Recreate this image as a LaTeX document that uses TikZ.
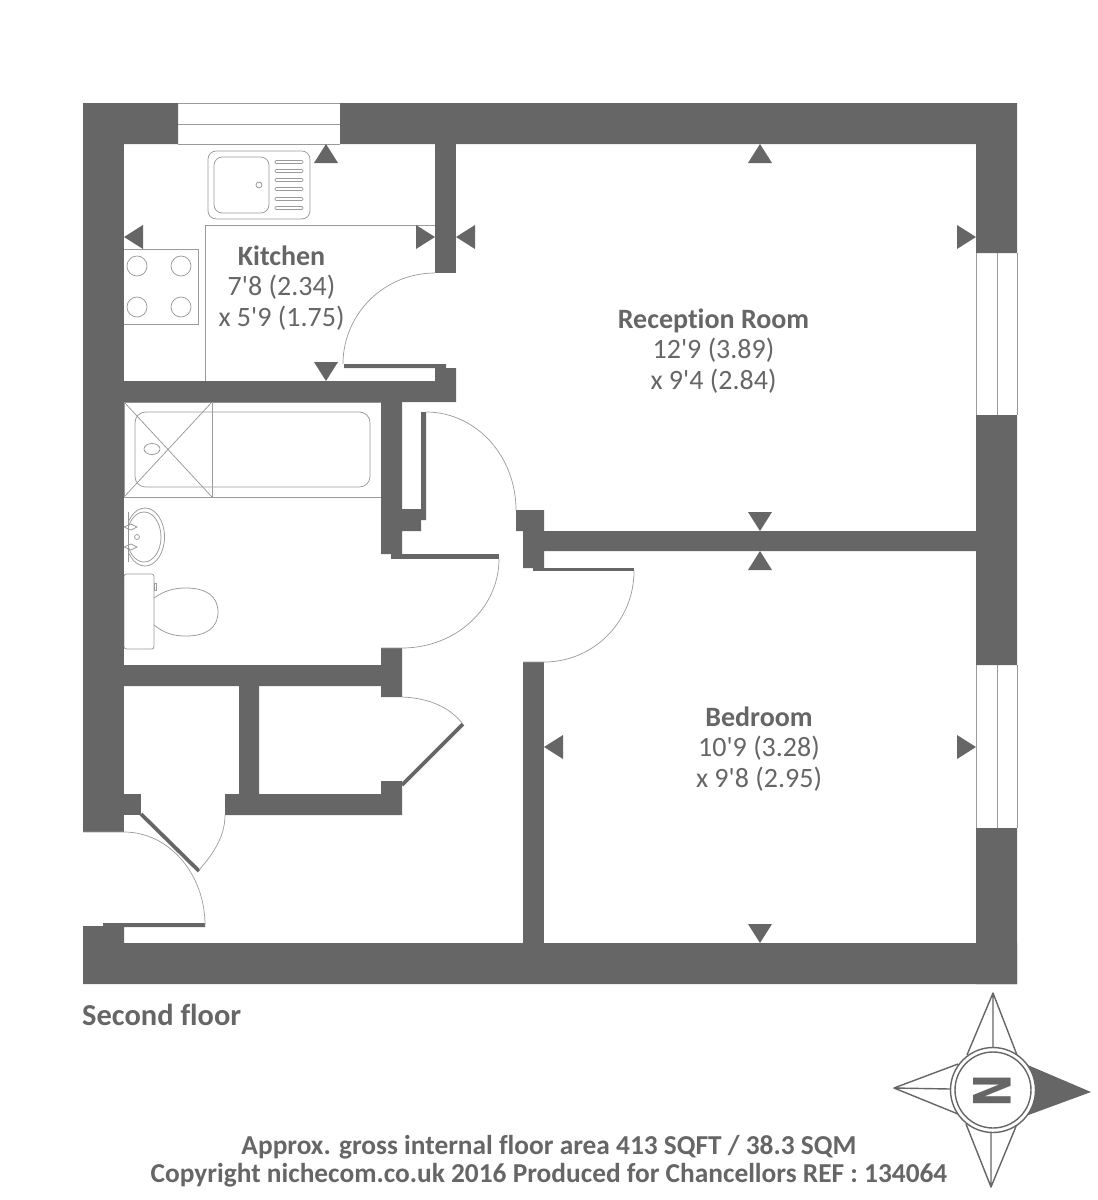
\documentclass[tikz,border=0pt]{standalone}
\usepackage{fontspec}
\setmainfont{Carlito}[Ligatures={TeXOff,CommonOff}]
\newfontfamily\northfont{DejaVu Sans}
\definecolor{wallgrey}{HTML}{666666}
\definecolor{fitgrey}{HTML}{9A9A9A}
\tikzset{
	wall/.style={fill=wallgrey},
	leaf/.style={draw=wallgrey, line width=3.2pt},
	fitting/.style={draw=fitgrey, line width=0.65pt},
	swing/.style={draw=fitgrey, line width=0.6pt},
	roomlabel/.style={text=wallgrey, align=center, inner sep=0pt, font=\fontsize{23.9}{26}\selectfont},
	footlabel/.style={text=wallgrey, align=center, inner sep=0pt, font=\bfseries\fontsize{23.35}{24}\selectfont},
	measure/.pic={\fill[wallgrey] (0,0) -- (12,19) -- (-12,19) -- cycle;}
}
\begin{document}
\begin{tikzpicture}[x=0.3mm, y=-0.3mm]
	\useasboundingbox (0,0) rectangle (1097,1200);

	% kitchen
	\draw[fitting] (205,381) -- (205,225) -- (435,225);
	\draw[fitting] (124,249) -- (198,249) -- (198,324) -- (124,324);
	\foreach \hobx in {137,181} {
		\foreach \hoby in {266,307} {
			\draw[fitting] (\hobx,\hoby) circle (10);
		}
	}
	\draw[fitting, rounded corners=7pt] (208,151) rectangle (310,219);
	\draw[fitting, rounded corners=7pt] (214,157) rectangle (269,213);
	\draw[fitting] (259,185) circle (3);
	\foreach \ridgey in {162,171,180,189,199,208} {
		\draw[fitting, rounded corners=1pt] (275,\ridgey-1.5) rectangle (303,\ridgey+1.5);
	}

	% bathroom
	\draw[fitting] (124,402) rectangle (381,497) (212,402) -- (212,497);
	\draw[fitting] (124,402) -- (212,497) (212,402) -- (124,497);
	\draw[fitting, rounded corners=9pt] (135,412) rectangle (370,487);
	\draw[fitting] (152,449) ellipse (8 and 5.5);
	\begin{scope}
		\clip (128,500) rectangle (170,570);
		\draw[fitting] (145,537) ellipse (19.5 and 29);
		\draw[fitting] (144,537) ellipse (17 and 25);
	\end{scope}
	\draw[fitting] (128,512) -- (128,562);
	\draw[fitting] (124,527) -- (131,524) -- (137,527) -- (131,530) -- cycle;
	\draw[fitting] (124,547) -- (131,544) -- (137,547) -- (131,550) -- cycle;
	\draw[fitting] (137,537) circle (2.5);
	\draw[fitting, rounded corners=2pt] (124,574) rectangle (154,649);
	\draw[fitting] (154,583) rectangle (156,590);
	\draw[fitting] (154,598) .. controls (164,591) and (173,588) .. (186,588)
		.. controls (206,588) and (218,596) .. (218,612)
		.. controls (218,628) and (206,636) .. (186,636)
		.. controls (173,636) and (164,633) .. (154,625);

	% outer walls
	\fill[wall] (83,103) rectangle (178,144) (340,103) rectangle (1017,144);
	\fill[wall] (83,103) rectangle (124,832);
	\fill[wall] (976,144) rectangle (1017,253) (976,415) rectangle (1017,665) (976,828) rectangle (1017,984);
	\fill[wall] (83,943) rectangle (1017,984) (83,926) rectangle (124,943) (103,923) rectangle (205,927);

	% inner walls
	\fill[wall] (435,144) rectangle (456,273);
	\fill[wall] (124,381) rectangle (456,402) (435,368) rectangle (456,381) (344,364) rectangle (446,368);
	\fill[wall] (381,402) rectangle (402,554) (402,509) rectangle (421,531) (421,412) rectangle (426,520);
	\fill[wall] (391,554) rectangle (499,559);
	\fill[wall] (381,648) rectangle (402,697) (124,665) rectangle (402,686);
	\fill[wall] (239,686) rectangle (259,794) (225,794) rectangle (402,815) (381,781) rectangle (402,794);
	\fill[wall] (124,794) rectangle (141,815);
	\fill[wall] (516,510) rectangle (544,531) (523,531) rectangle (544,568) (544,531) rectangle (976,551);
	\fill[wall] (533,568) rectangle (634,571);
	\fill[wall] (523,662) rectangle (544,943);

	% door leaves and swings
	\draw[leaf] (141,814) -- (199,871);
	\draw[leaf] (402,785) -- (463,724);
	\draw[swing] (343,364) .. controls (343,314) and (384,273) .. (435,273);
	\draw[swing] (426,412) .. controls (476,412) and (516,456) .. (516,510);
	\draw[swing] (499,559) .. controls (499,608) and (456,648) .. (402,648) -- (381,648);
	\draw[swing] (634,571) .. controls (634,621) and (594,662) .. (544,662) -- (523,662);
	\draw[swing] (83,832) -- (124,832) .. controls (169,832) and (205,874) .. (205,925);
	\draw[swing] (402,697) .. controls (430,698) and (450,708) .. (462,723);
	\draw[swing] (199,870) .. controls (215,852) and (225,835) .. (225,815);

	% windows
	\draw[fitting] (178,103) -- (340,103) (178,124) -- (340,124) (178,144) -- (340,144);
	\foreach \winy/\winz in {253/415, 665/828} {
		\draw[fitting] (976,\winy) -- (976,\winz) (997,\winy) -- (997,\winz) (1017,\winy) -- (1017,\winz);
	}

	% measuring marks
	\pic at (326,144) {measure};
	\pic at (760,144) {measure};
	\pic at (760,551) {measure};
	\pic[rotate=90] at (124,237) {measure};
	\pic[rotate=90] at (456,237) {measure};
	\pic[rotate=90] at (544,747) {measure};
	\pic[rotate=-90] at (435,237) {measure};
	\pic[rotate=-90] at (976,237) {measure};
	\pic[rotate=-90] at (976,747) {measure};
	\pic[rotate=180] at (326,381) {measure};
	\pic[rotate=180] at (760,531) {measure};
	\pic[rotate=180] at (760,943) {measure};

	% room names
	\node[roomlabel] (kitchen) at (281.5,288) {\textbf{Kitchen}\\7'8 (2.34)\\x 5'9 (1.75)};
	\node[roomlabel] (reception) at (713.5,351) {\textbf{Reception Room}\\12'9 (3.89)\\x 9'4 (2.84)};
	\node[roomlabel] (bedroom) at (759,749) {\textbf{Bedroom}\\10'9 (3.28)\\x 9'8 (2.95)};
	\node[footlabel, anchor=west, font=\bfseries\fontsize{26}{26}\selectfont] (floorname) at (82,1015) {Second floor};
	\node[footlabel] (areatext) at (549,1161) {Approx. gross internal floor area 413 SQFT / 38.3 SQM\\Copyright nichecom.co.uk 2016 Produced for Chancellors REF : 134064};

	% compass
	\coordinate (compass) at (993,1090);
	\fill[wallgrey] (1023,1063) -- (1091,1092) -- (1023,1117) -- cycle;
	\draw[wallgrey, line width=1.2pt, line join=round] (967,1055) -- (993,993) -- (1017,1055)
		(958,1064) -- (894,1088) -- (958,1114)
		(966,1124) -- (991,1187) -- (1017,1124)
		(993,993) -- (993,1048) (894,1088) -- (950,1089) (991,1187) -- (991,1132);
	\draw[wallgrey, fill=white, line width=1.2pt] (compass) circle (42.5);
	\draw[wallgrey, line width=1.2pt] (compass) circle (38);
	\node[text=wallgrey, inner sep=0pt, rotate=-90, xscale=0.76, font=\northfont\bfseries\fontsize{44}{44}\selectfont] (northmark) at (992,1091) {N};
\end{tikzpicture}
\end{document}
